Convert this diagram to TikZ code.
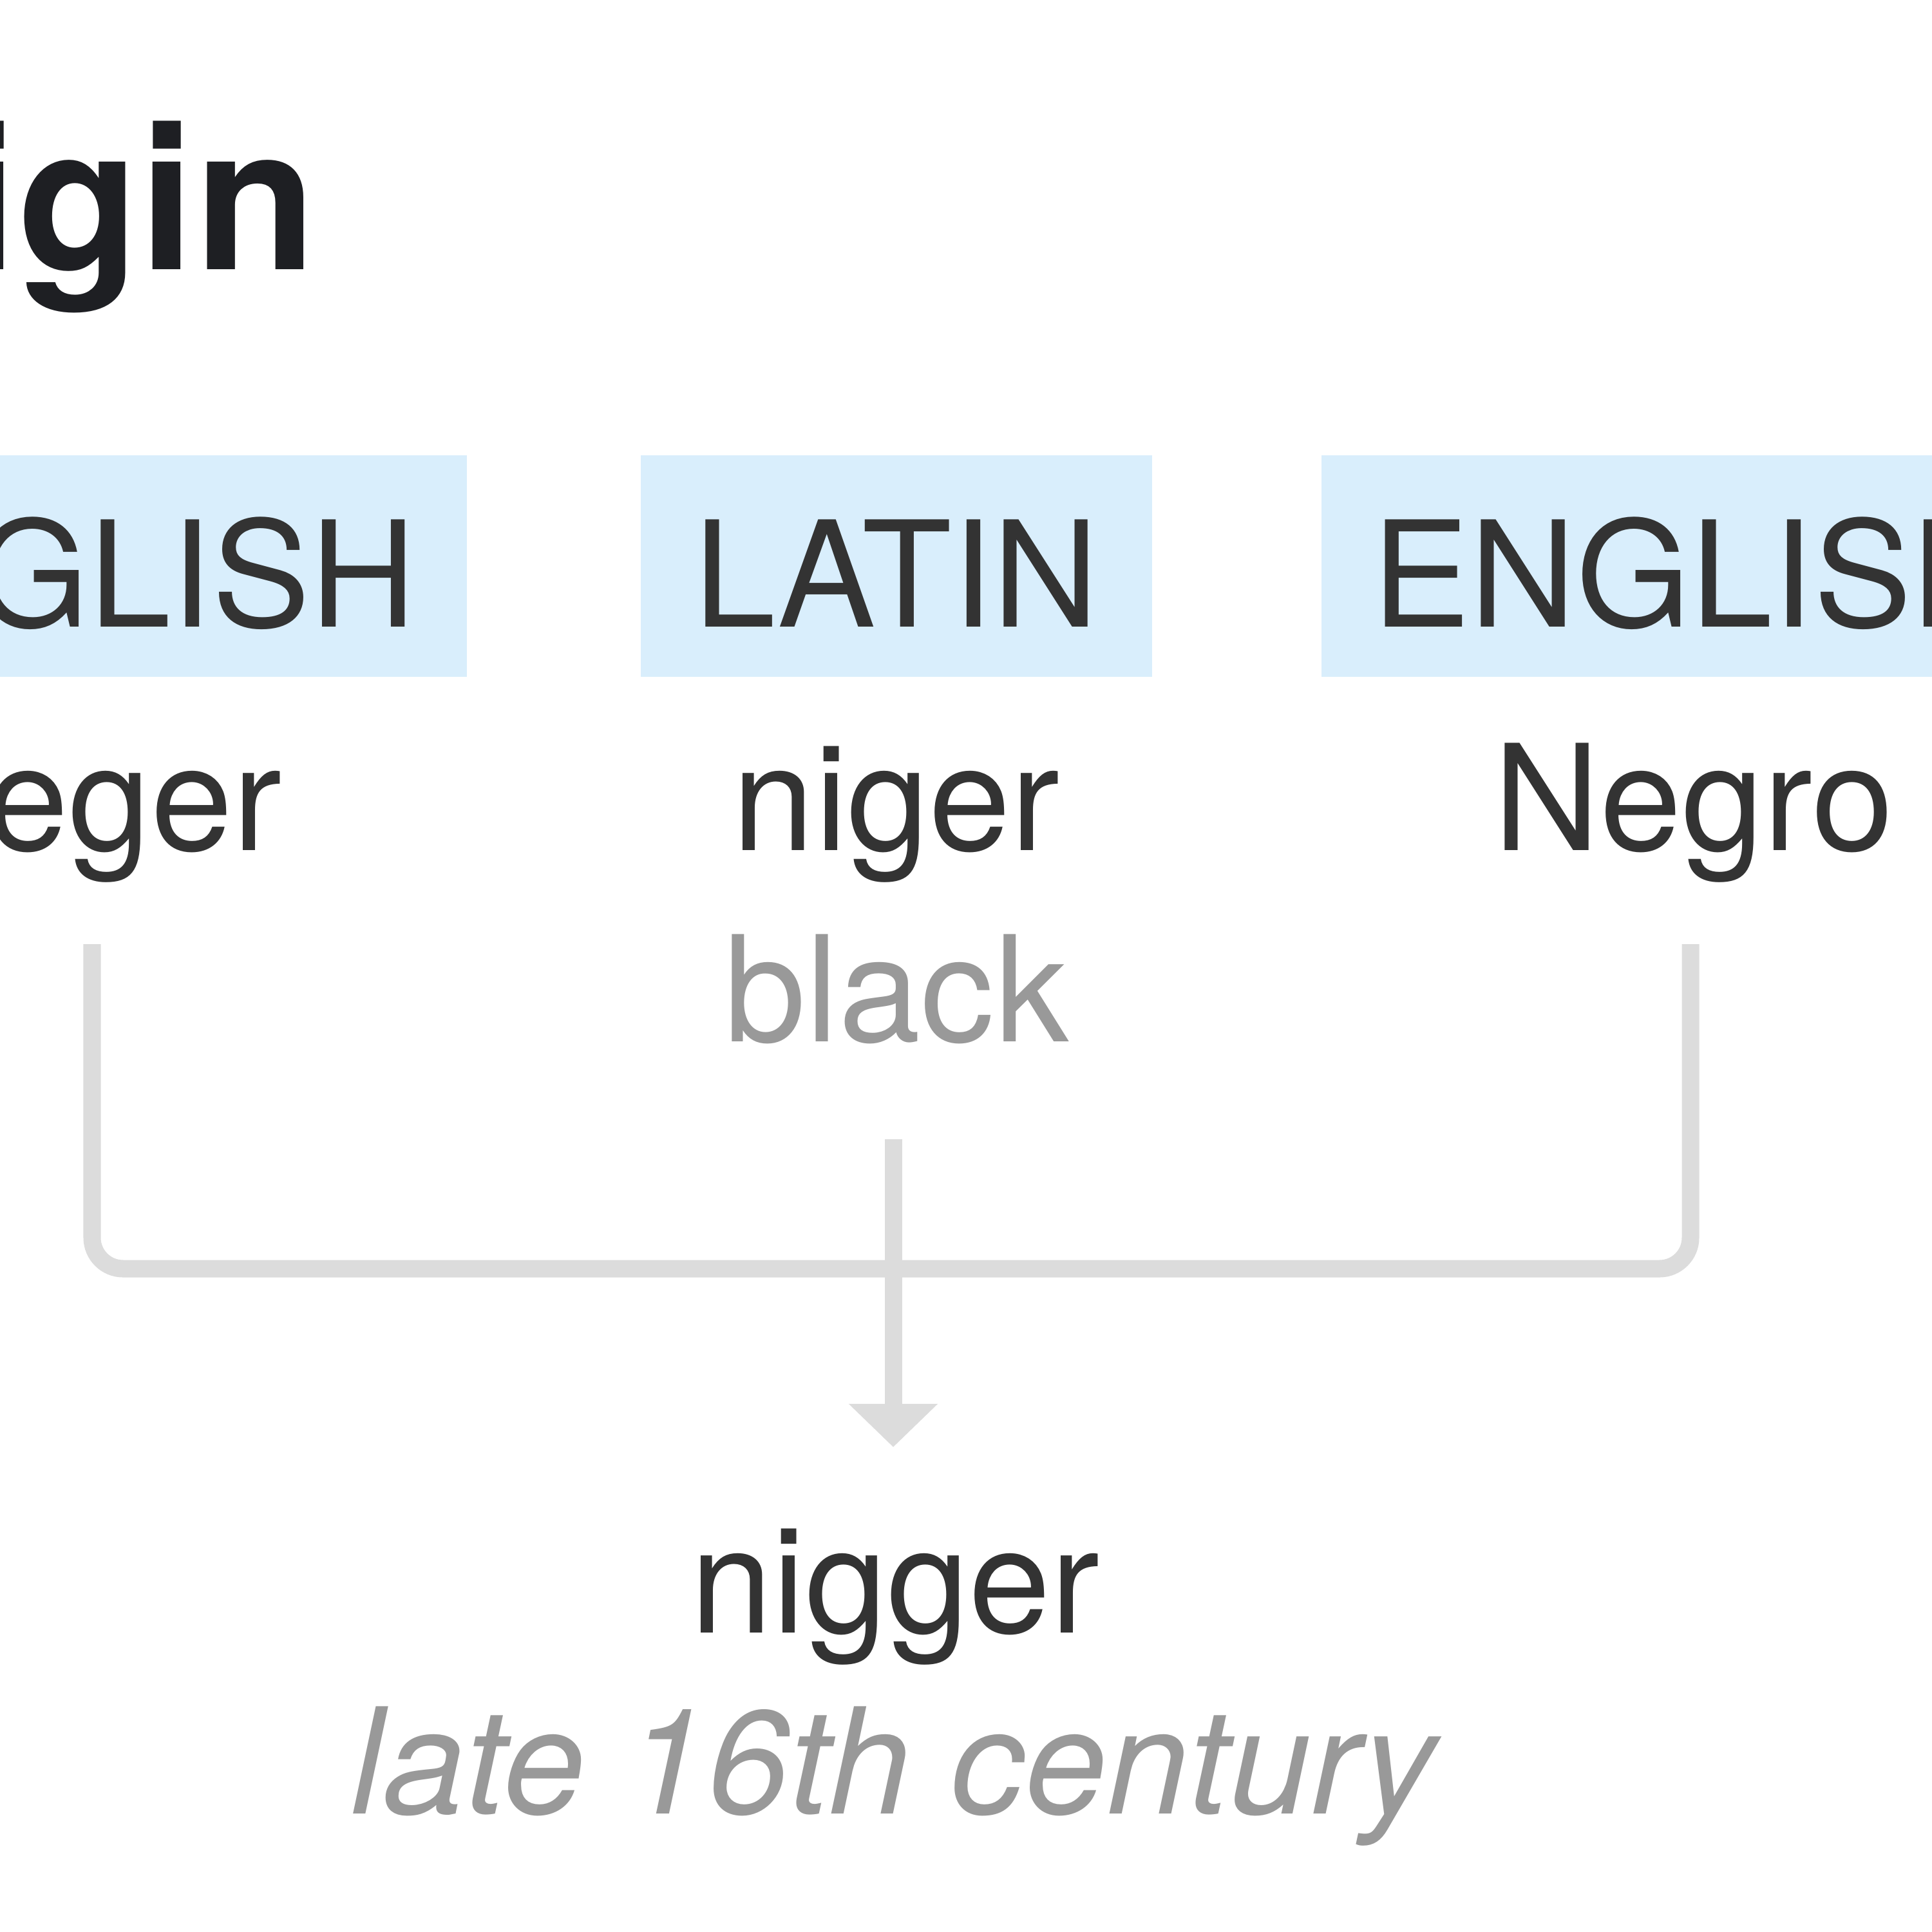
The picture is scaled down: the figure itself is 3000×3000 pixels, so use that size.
\documentclass[tikz,border=0pt]{standalone}
\usepackage{xcolor}
\usepackage{fontspec}
\setmainfont{TeX Gyre Heros}
\usetikzlibrary{
    positioning,
    arrows.meta
}
\definecolor{langblue}{HTML}{D9EEFC}
\definecolor{worddark}{HTML}{333333}
\definecolor{titledark}{HTML}{1E1F23}
\definecolor{softgray}{HTML}{999999}
\definecolor{linkgray}{HTML}{DCDCDC}
\tikzset{%
    heading/.style={%
        inner sep = 0pt,
        outer sep = 0pt,
        text=titledark,
        font=\fontsize{88}{100}\selectfont\bfseries
    },
    language/.style={%
        rectangle,
        fill=langblue,
        inner sep = 0pt,
        outer sep = 0pt,
        text=worddark,
        text height=1.88cm,
        text depth=0pt,
        minimum height=3.44cm,
        font=\fontsize{65}{78}\selectfont
    },
    word/.style={%
        inner sep = 0pt,
        outer sep = 0pt,
        text=worddark,
        font=\fontsize{65}{78}\selectfont
    },
    meaning/.style={%
        word,
        text=softgray,
    },
    date/.style={%
        word,
        text=softgray,
        font=\fontsize{65}{78}\selectfont\itshape
    },
    link/.style={%
        draw=linkgray,
        line width=0.27cm,
        rounded corners=0.48cm,
    },
    arrow/.style={%
        >={Triangle[width=1.34cm, length=0.67cm]},
    },
}
\begin{document}
\begin{tikzpicture}[x=0.01cm, y=-0.01cm]
    \useasboundingbox (0,0) rectangle (3000,3000);

    \node[heading, anchor=base east] (origin) at (492,418) {Origin};

    \node[language, minimum width=11.6cm] (english1) at (145,879) {ENGLISH};
    \node[language, minimum width=7.94cm] (latin) at (1392,879) {LATIN};
    \node[language, minimum width=11.6cm] (english2) at (2632,879) {ENGLISH};

    \node[word, anchor=base] (neger) at (145,1320) {neger};
    \node[word, anchor=base] (niger) at (1392,1320) {niger};
    \node[word, anchor=base] (negro) at (2630,1320) {Negro};
    \node[meaning, anchor=base] (black) at (1392,1617) {black};

    \node[word, anchor=base] (nigger) at (1390,2535) {nigger};
    \node[date, anchor=base] (century) at (1387,2816) {late 16th century};

    % connector ends
    \coordinate (neger end) at (143,1466);
    \coordinate (negro end) at (2625,1466);
    \coordinate (black end) at (1387,1769);
    \coordinate (join) at (1387,1970);
    \coordinate (nigger top) at (1387,2247);

    \draw[link] (neger end) |- (join) -| (negro end);
    \draw[link, arrow, ->] (black end) -- (nigger top);
\end{tikzpicture}
\end{document}
